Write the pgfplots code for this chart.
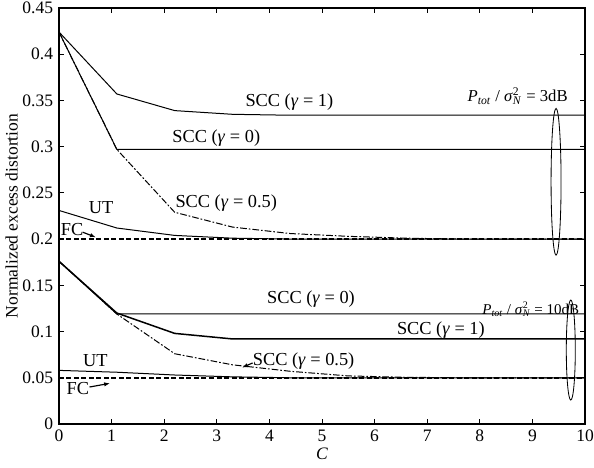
\documentclass[border=0pt]{standalone}
\usepackage{pgfplots}
\pgfplotsset{compat=1.18}
\usepackage{fontspec}
\setmainfont{Liberation Serif}
\usetikzlibrary{arrows.meta}

\newcommand{\lab}{\fontsize{11}{13}\selectfont}
\newcommand{\snr}[1]{\textit{P}\textsubscript{\textit{tot}} / \textit{σ}\makebox[0pt][l]{\textsuperscript{2}}\textsubscript{\textit{N}} = #1dB}

\begin{document}
\begin{tikzpicture}
\begin{axis}[
    scale only axis,
    width=315.6pt,
    height=249.6pt,
    xmin=0, xmax=10,
    ymin=0, ymax=0.45,
    xtick={0,1,...,10},
    ytick={0,0.05,...,0.45},
    scaled y ticks=false,
    yticklabel style={/pgf/number format/fixed, /pgf/number format/precision=2},
    /pgf/number format/assume math mode=true,
    tick label style={font=\fontsize{10.5}{12}\selectfont},
    tick align=inside,
    major tick length=3pt,
    axis line style={line width=1.1pt},
    tick style={line width=0.5pt, black},
    xlabel={\textit{C}},
    ylabel={Normalized excess distortion},
    label style={font=\fontsize{10.5}{12}\selectfont},
    xlabel style={yshift=3pt},
    ylabel style={yshift=-4pt},
    cycle list={{black, solid}},
    no markers,
    every axis plot/.append style={line width=0.6pt},
]

% === Ptot/sigma^2 = 3dB ===
% SCC gamma = 1
\addplot coordinates {(0,0.424) (1.1,0.357) (2.2,0.339) (3.3,0.335) (4.4,0.334) (10,0.334)};
% SCC gamma = 0
\addplot coordinates {(0,0.424) (1.1,0.297) (10,0.297)};
% SCC gamma = 0.5
\addplot+[dash pattern=on 4pt off 1.2pt on 1pt off 1.2pt] coordinates {
    (0,0.424) (1.1,0.297) (2.2,0.229) (3.3,0.213) (4.4,0.206) (5.5,0.203) (6.6,0.201) (7.7,0.2) (10,0.2)};
% UT
\addplot coordinates {(0,0.231) (1.1,0.212) (2.2,0.204) (3.3,0.201) (4.4,0.2) (10,0.2)};
% FC
\addplot+[line width=1pt, dash pattern=on 3pt off 1.5pt] coordinates {(0,0.2) (10,0.2)};

% === Ptot/sigma^2 = 10dB ===
% SCC gamma = 0
\addplot coordinates {(0,0.176) (1.1,0.119) (10,0.119)};
% SCC gamma = 1
\addplot+[line width=0.9pt] coordinates {(0,0.176) (1.1,0.12) (2.2,0.098) (3.3,0.092) (4.4,0.092) (10,0.092)};
% SCC gamma = 0.5
\addplot+[dash pattern=on 4pt off 1.2pt on 1pt off 1.2pt] coordinates {
    (0,0.176) (1.1,0.119) (2.2,0.076) (3.3,0.064) (4.4,0.057) (5.5,0.052) (6.6,0.0505) (7.7,0.05) (10,0.05)};
% UT
\addplot coordinates {(0,0.058) (1.1,0.056) (2.2,0.053) (3.3,0.051) (4.4,0.05) (10,0.05)};
% FC
\addplot+[line width=1pt, dash pattern=on 3pt off 1.5pt] coordinates {(0,0.05) (10,0.05)};

% labels, 3dB
\node[font=\lab] at (axis cs:4.38,0.348) {SCC (\textit{γ} = 1)};
\node[font=\lab] at (axis cs:2.99,0.309) {SCC (\textit{γ} = 0)};
\node[font=\lab] at (axis cs:3.18,0.239) {SCC (\textit{γ} = 0.5)};
\node[font=\lab] at (axis cs:0.80,0.234) {UT};
\node[font=\lab] at (axis cs:0.25,0.210) {FC};
\draw[-{Latex[length=3.5pt]}, line width=0.7pt] (axis cs:0.45,0.2075) -- (axis cs:0.70,0.202);
\node[font=\fontsize{10}{12}\selectfont] at (axis cs:8.72,0.3545) {\snr{3}};
\draw[line width=0.5pt] (axis cs:9.45,0.262) ellipse [x radius=3pt, y radius=44pt];

% labels, 10dB
\node[font=\lab] at (axis cs:4.79,0.135) {SCC (\textit{γ} = 0)};
\node[font=\lab] at (axis cs:7.26,0.102) {SCC (\textit{γ} = 1)};
\node[font=\lab] at (axis cs:4.65,0.0684) {SCC (\textit{γ} = 0.5)};
\draw[-{Latex[length=3.5pt]}, line width=0.7pt] (axis cs:3.68,0.066) -- (axis cs:3.48,0.061);
\node[font=\lab] at (axis cs:0.69,0.069) {UT};
\node[font=\lab] at (axis cs:0.36,0.0385) {FC};
\draw[-{Latex[length=3.5pt]}, line width=0.7pt] (axis cs:0.58,0.040) -- (axis cs:0.97,0.044);
\node[font=\fontsize{9}{11}\selectfont] at (axis cs:8.97,0.1245) {\snr{10}};
\draw[line width=0.5pt] (axis cs:9.73,0.080) ellipse [x radius=2.7pt, y radius=30pt];
\end{axis}
\pgfresetboundingbox
\path (-35.4pt,-26.4pt) rectangle (321pt,254.4pt);
\end{tikzpicture}
\end{document}
